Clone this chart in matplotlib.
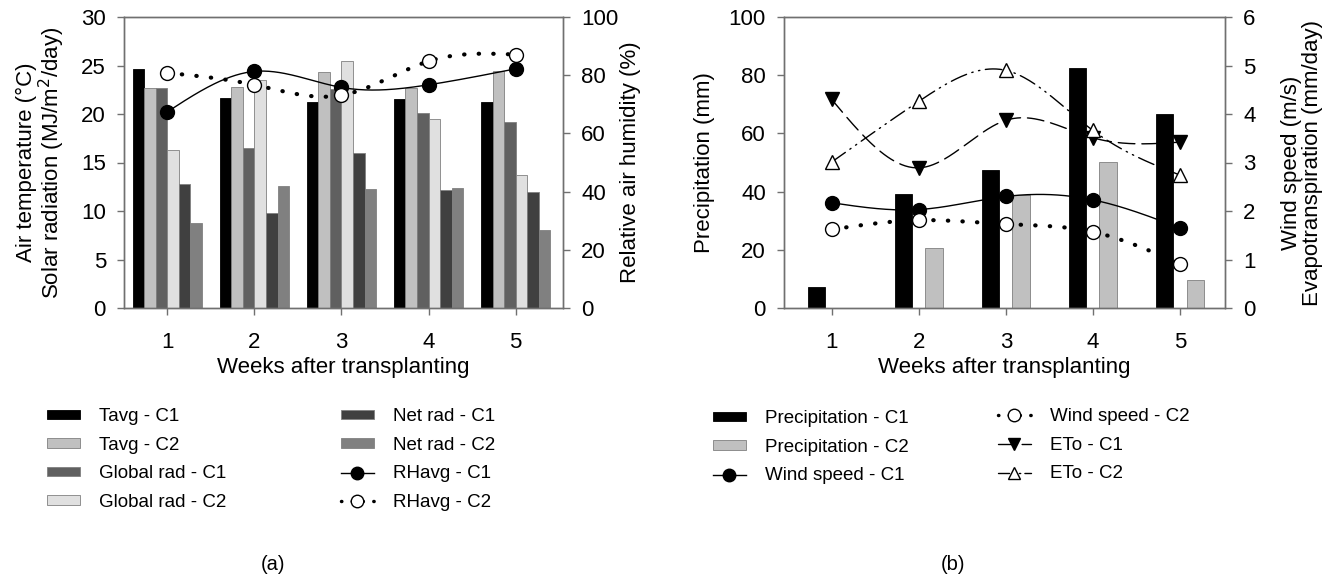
import numpy as np
import matplotlib
matplotlib.use('Agg')
import matplotlib.pyplot as plt
from matplotlib.patches import Patch
from matplotlib.lines import Line2D

plt.rcParams['font.family'] = ['Liberation Sans', 'DejaVu Sans']

weeks = [1, 2, 3, 4, 5]

# panel (a): bars on left axis
tavg_c1 = [24.6, 21.7, 21.2, 21.5, 21.2]
tavg_c2 = [22.7, 22.8, 24.3, 22.7, 24.4]
glob_c1 = [22.7, 16.5, 22.6, 20.1, 19.2]
glob_c2 = [16.25, 23.5, 25.5, 19.5, 13.7]
net_c1 = [12.8, 9.8, 16.0, 12.2, 12.0]
net_c2 = [8.8, 12.6, 12.3, 12.4, 8.0]
# panel (a): relative humidity on right axis
rh_c1 = [67.4, 81.3, 75.8, 76.7, 82.2]
rh_c2 = [80.8, 76.7, 73.1, 84.8, 87.1]

# panel (b)
prec_c1 = [7.2, 39.2, 47.5, 82.4, 66.8]
prec_c2 = [0.0, 20.6, 39.0, 50.2, 9.5]
wind_c1 = [2.17, 2.03, 2.30, 2.23, 1.65]
wind_c2 = [1.62, 1.81, 1.73, 1.57, 0.91]
eto_c1 = [4.30, 2.89, 3.87, 3.51, 3.42]
eto_c2 = [3.01, 4.26, 4.90, 3.66, 2.74]


def spline(x, y, n=200):
    # natural cubic spline, only used to draw the smooth line through the points
    x = np.asarray(x, float)
    y = np.asarray(y, float)
    k = len(x)
    h = np.diff(x)
    A = np.zeros((k, k))
    b = np.zeros(k)
    A[0, 0] = 1
    A[-1, -1] = 1
    for i in range(1, k - 1):
        A[i, i - 1] = h[i - 1]
        A[i, i] = 2 * (h[i - 1] + h[i])
        A[i, i + 1] = h[i]
        b[i] = 6 * ((y[i + 1] - y[i]) / h[i] - (y[i] - y[i - 1]) / h[i - 1])
    M = np.linalg.solve(A, b)
    xs = np.linspace(x[0], x[-1], n)
    ys = np.empty_like(xs)
    for j, xv in enumerate(xs):
        i = min(np.searchsorted(x, xv) - 1, k - 2)
        i = max(i, 0)
        t1 = x[i + 1] - xv
        t2 = xv - x[i]
        ys[j] = (M[i] * t1 ** 3 / (6 * h[i]) + M[i + 1] * t2 ** 3 / (6 * h[i])
                 + (y[i] / h[i] - M[i] * h[i] / 6) * t1
                 + (y[i + 1] / h[i] - M[i + 1] * h[i] / 6) * t2)
    return xs, ys


spine_col = '#707070'
edge_col = '#808080'
tick_fs = 16


def style_axes(ax):
    for s in ax.spines.values():
        s.set_color(spine_col)
        s.set_linewidth(1)
    ax.tick_params(direction='out', length=5, color=spine_col, labelsize=tick_fs, width=1)
    ax.tick_params(axis='y', pad=8)
    ax.tick_params(axis='x', pad=12)


def draw_line(ax, y, ls, lw, marker, mfc, ms=10):
    xs, ys = spline(weeks, y)
    ax.plot(xs, ys, color='black', linestyle=ls, linewidth=lw, dash_capstyle='round', zorder=3)
    ax.plot(weeks, y, linestyle='none', marker=marker, markersize=ms,
            markerfacecolor=mfc, markeredgecolor='black', markeredgewidth=1, zorder=4)


fig = plt.figure(figsize=(13.43, 5.79), dpi=100)
W, H = 1343, 579

# ---------- panel (a) ----------
ax1 = fig.add_axes([124 / W, 1 - 308 / H, 439 / W, 291 / H])
bar_series = [tavg_c1, tavg_c2, glob_c1, glob_c2, net_c1, net_c2]
bar_colors = ['black', '#c0c0c0', '#606060', '#e0e0e0', '#404040', '#808080']
bw = 0.133
for i, (vals, col) in enumerate(zip(bar_series, bar_colors)):
    xs = np.array(weeks) + (i - 2.5) * bw
    ax1.bar(xs, vals, width=bw, color=col,
            edgecolor='black' if col == 'black' else edge_col, linewidth=0.6, zorder=2)
ax1.set_xlim(0.503, 5.543)
ax1.set_ylim(0, 30)
ax1.set_yticks(range(0, 31, 5))
ax1.set_xticks(weeks)
style_axes(ax1)
ax1.set_xlabel('Weeks after transplanting', fontsize=16, labelpad=3)
ax1.set_ylabel('Air temperature (°C)\nSolar radiation (MJ/m$^2$/day)', fontsize=16,
               labelpad=10, linespacing=1.0)

ax1r = ax1.twinx()
draw_line(ax1r, rh_c1, '-', 1.0, 'o', 'black')
draw_line(ax1r, rh_c2, (0, (0.1, 3.4)), 3.0, 'o', 'white')
ax1r.set_ylim(0, 100)
ax1r.set_yticks(range(0, 101, 20))
style_axes(ax1r)
ax1r.set_ylabel('Relative air humidity (%)', fontsize=16, labelpad=1)

# ---------- panel (b) ----------
ax2 = fig.add_axes([784 / W, 1 - 308 / H, 441 / W, 291 / H])
pw = 0.2
ax2.bar(np.array(weeks) - 0.175, prec_c1, width=pw, color='black', edgecolor='black',
        linewidth=0.6, zorder=2)
ax2.bar(np.array(weeks) + 0.175, prec_c2, width=pw, color='#c0c0c0', edgecolor=edge_col,
        linewidth=0.6, zorder=2)
ax2.set_xlim(0.452, 5.517)
ax2.set_ylim(0, 100)
ax2.set_yticks(range(0, 101, 20))
ax2.set_xticks(weeks)
style_axes(ax2)
ax2.set_xlabel('Weeks after transplanting', fontsize=16, labelpad=3)
ax2.set_ylabel('Precipitation (mm)', fontsize=16, labelpad=10)

ax2r = ax2.twinx()
draw_line(ax2r, wind_c1, '-', 1.0, 'o', 'black')
draw_line(ax2r, wind_c2, (0, (0.1, 3.4)), 3.0, 'o', 'white')
draw_line(ax2r, eto_c1, (0, (12, 5)), 1.0, 'v', 'black')
draw_line(ax2r, eto_c2, (0, (12, 4, 1, 4, 1, 4)), 1.0, '^', 'white')
ax2r.set_ylim(0, 6)
ax2r.set_yticks(range(0, 7))
style_axes(ax2r)
ax2r.set_ylabel('Wind speed (m/s)\nEvapotranspiration (mm/day)', fontsize=16,
                labelpad=18, linespacing=1.0)

# ---------- legends ----------
leg_fs = 13.5
leg_kw = dict(loc='upper left', frameon=False, fontsize=leg_fs, borderpad=0,
              borderaxespad=0, handlelength=1.75, handleheight=0.4,
              handletextpad=1.0, labelspacing=0.62)


def patch(col):
    return Patch(facecolor=col, edgecolor='black' if col == 'black' else edge_col, linewidth=0.6)


def mline(ls, lw, marker, mfc):
    return Line2D([], [], color='black', linestyle=ls, linewidth=lw, marker=marker,
                  markersize=9, markerfacecolor=mfc, markeredgecolor='black',
                  dash_capstyle='round')


fig.legend([patch(c) for c in bar_colors[:4]],
           ['Tavg - C1', 'Tavg - C2', 'Global rad - C1', 'Global rad - C2'],
           bbox_to_anchor=(47 / W, 1 - 408 / H), **leg_kw)
fig.legend([patch(bar_colors[4]), patch(bar_colors[5]),
            mline('-', 1.0, 'o', 'black'), mline((0, (0.1, 3)), 2.5, 'o', 'white')],
           ['Net rad - C1', 'Net rad - C2', 'RHavg - C1', 'RHavg - C2'],
           bbox_to_anchor=(341 / W, 1 - 408 / H), **leg_kw)
fig.legend([patch('black'), patch('#c0c0c0'), mline('-', 1.0, 'o', 'black')],
           ['Precipitation - C1', 'Precipitation - C2', 'Wind speed - C1'],
           bbox_to_anchor=(713 / W, 1 - 410 / H), **leg_kw)
fig.legend([mline((0, (0.1, 3)), 2.5, 'o', 'white'), mline((0, (12, 5)), 1.0, 'v', 'black'),
            mline((0, (8, 3, 1, 3, 1, 3)), 1.0, '^', 'white')],
           ['Wind speed - C2', 'ETo - C1', 'ETo - C2'],
           bbox_to_anchor=(998 / W, 1 - 408 / H), **leg_kw)

fig.text(273 / W, 1 - 565 / H, '(a)', fontsize=14.5, ha='center', va='center')
fig.text(953 / W, 1 - 565 / H, '(b)', fontsize=14.5, ha='center', va='center')

fig.savefig('out.png', dpi=100, facecolor='white')
